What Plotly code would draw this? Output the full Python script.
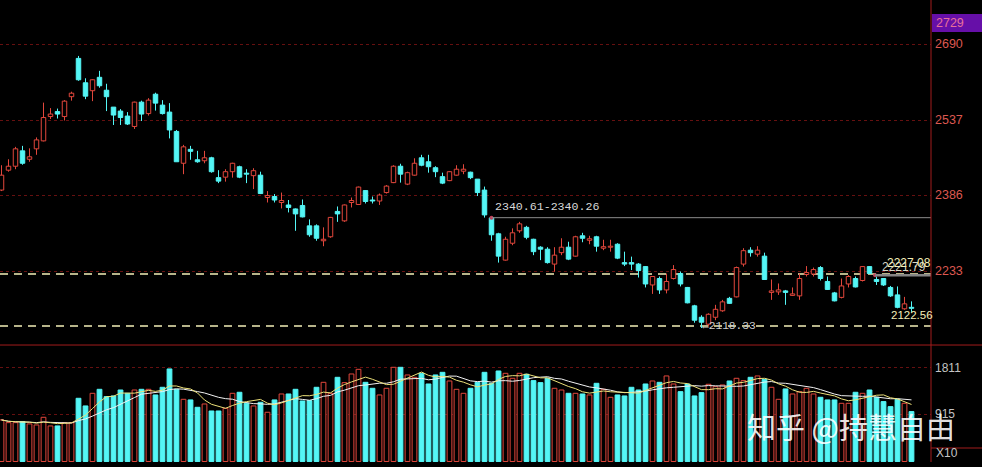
import plotly.graph_objects as go
import pandas as pd

# ---------------- data ----------------
opens = [2396, 2436, 2444, 2475, 2458, 2479, 2495, 2544, 2554, 2544,
         2584, 2661, 2612, 2596, 2623, 2597, 2563, 2555, 2545, 2524,
         2573, 2550, 2589, 2567, 2553, 2514, 2450, 2478, 2457, 2455,
         2461, 2421, 2422, 2433, 2443, 2430, 2425, 2426, 2381, 2383,
         2371, 2366, 2358, 2365, 2324, 2324, 2294, 2302, 2353, 2334,
         2371, 2367, 2395, 2376, 2374, 2391, 2411, 2444, 2408, 2426,
         2461, 2453, 2441, 2423, 2415, 2426, 2434, 2432, 2418, 2396,
         2340, 2308, 2255, 2289, 2314, 2321, 2297, 2281, 2277, 2247,
         2270, 2281, 2263, 2304, 2295, 2302, 2279, 2281, 2287, 2250,
         2250, 2247, 2242, 2205, 2218, 2195, 2218, 2228, 2200, 2163,
         2140, 2126, 2140, 2153, 2178, 2181, 2247, 2275, 2267, 2263,
         2190, 2191, 2193, 2184, 2183, 2226, 2227, 2240, 2212, 2189,
         2180, 2207, 2218, 2214, 2242, 2216, 2218, 2200, 2185, 2157,
         2160]
highs = [2446, 2458, 2483, 2485, 2480, 2502, 2572, 2561, 2560, 2577,
         2594, 2666, 2621, 2619, 2636, 2610, 2563, 2559, 2553, 2574,
         2576, 2581, 2592, 2577, 2571, 2517, 2487, 2485, 2475, 2475,
         2463, 2436, 2438, 2451, 2445, 2438, 2440, 2433, 2394, 2388,
         2391, 2376, 2359, 2377, 2337, 2327, 2321, 2342, 2363, 2367,
         2381, 2403, 2396, 2383, 2389, 2406, 2446, 2449, 2433, 2460,
         2467, 2467, 2444, 2431, 2434, 2446, 2448, 2433, 2418, 2403,
         2340.26, 2310, 2302, 2319, 2332, 2324, 2298, 2283, 2281, 2281,
         2299, 2292, 2304, 2310, 2304, 2304, 2296, 2296, 2289, 2272,
         2262, 2249, 2243, 2223, 2222, 2228, 2245, 2232, 2201, 2165,
         2144, 2148, 2165, 2175, 2181, 2242, 2279, 2281, 2283, 2270,
         2216, 2208, 2195, 2200, 2228, 2243, 2240, 2243, 2222, 2191,
         2218, 2225, 2222, 2243, 2243, 2221.79, 2219, 2203, 2202, 2181,
         2172]
lows = [2394, 2433, 2438, 2447, 2453, 2467, 2494, 2539, 2540, 2536,
        2576, 2616, 2579, 2575, 2602, 2555, 2527, 2527, 2527, 2519,
        2535, 2546, 2556, 2548, 2500, 2453, 2428, 2457, 2451, 2450,
        2431, 2410, 2413, 2421, 2420, 2410, 2398, 2388, 2371, 2371,
        2359, 2351, 2314, 2341, 2302, 2294, 2283, 2300, 2332, 2332,
        2361, 2366, 2369, 2369, 2366, 2389, 2410, 2411, 2406, 2425,
        2444, 2431, 2422, 2408, 2414, 2425, 2428, 2418, 2384, 2340.61,
        2294, 2250, 2254, 2285, 2310, 2297, 2265, 2255, 2248, 2232,
        2265, 2255, 2262, 2291, 2287, 2272, 2275, 2272, 2257, 2243,
        2235, 2220, 2200, 2187, 2187, 2188, 2216, 2202, 2168, 2129,
        2118.33, 2121, 2134, 2151, 2167, 2180, 2242, 2262, 2262, 2215,
        2175, 2185, 2165, 2183, 2175, 2222, 2222, 2214, 2195, 2172,
        2178, 2200, 2200, 2212, 2227.08, 2205, 2203, 2181, 2158, 2155,
        2150]
closes = [2426, 2444, 2479, 2450, 2463, 2497, 2542, 2549, 2549, 2575,
          2591, 2618, 2585, 2618, 2606, 2584, 2547, 2542, 2529, 2573,
          2549, 2577, 2571, 2550, 2517, 2453, 2483, 2474, 2453, 2461,
          2433, 2414, 2433, 2450, 2422, 2428, 2435, 2389, 2385, 2376,
          2375, 2361, 2348, 2342, 2306, 2299, 2297, 2341, 2348, 2366,
          2375, 2402, 2373, 2374, 2386, 2404, 2444, 2428, 2431, 2450,
          2446, 2443, 2433, 2410, 2433, 2438, 2438, 2421, 2391, 2346,
          2306, 2263, 2297, 2310, 2328, 2301, 2272, 2277, 2250, 2265,
          2281, 2257, 2302, 2299, 2298, 2283, 2282, 2283, 2259, 2247,
          2247, 2234, 2207, 2222, 2195, 2212, 2236, 2207, 2169, 2134,
          2130, 2146, 2156, 2171, 2168, 2240, 2274, 2270, 2275, 2216,
          2193, 2195, 2190, 2187, 2218, 2230, 2236, 2218, 2196, 2173,
          2203, 2222, 2201, 2242, 2228, 2212, 2205, 2183, 2160, 2167,
          2158]
volumes = [802, 750, 750, 770, 725, 705, 853, 686, 686, 750,
           750, 1220, 1072, 1316, 1393, 1252, 1265, 1380, 1316, 1380,
           1393, 1393, 1284, 1432, 1786, 1393, 1200, 1188, 1046, 1110,
           975, 975, 1027, 1316, 1336, 1123, 1072, 1143, 950, 1188,
           1303, 1303, 1393, 1168, 1175, 1432, 1528, 1316, 1625, 1522,
           1689, 1779, 1528, 1413, 1284, 1413, 1818, 1818, 1670, 1625,
           1702, 1496, 1670, 1721, 1554, 1393, 1316, 1413, 1528, 1721,
           1509, 1747, 1702, 1606, 1702, 1683, 1561, 1522, 1606, 1413,
           1380, 1316, 1316, 1303, 1284, 1509, 1393, 1239, 1284, 1265,
           1432, 1380, 1496, 1554, 1528, 1651, 1496, 1348, 1496, 1265,
           1329, 1490, 1445, 1477, 1554, 1606, 1561, 1625, 1651, 1586,
           1432, 1200, 1400, 1303, 1348, 1413, 1303, 1239, 1188, 1188,
           1123, 1123, 1336, 1316, 1380, 1239, 1156, 1059, 1200, 1123,
           963]

price_tick_vals = [2690, 2537, 2386, 2233]
price_top_label = "2729"
vol_tick_vals = [1811, 915]
vol_unit_label = "X10"

gap1_hi, gap1_lo = 2340.61, 2340.26
gap1_start = 70
gap2_hi, gap2_lo = 2227.08, 2221.79
gap2_start = 124
low_mark = 2118.33
low_idx = 100
level_a = 2227.08
level_b = 2122.56
watermark = "知乎 @持慧自由"

# ---------------- styling ----------------
RED = '#e2473c'
CYAN = '#54f6f6'
GRID = '#661010'
AXIS = '#a21c1c'
LBL_RED = '#dd5850'
LBL_GRAY = '#c4c4c4'
YEL = '#f3efb8'

n = len(opens)
idx = list(range(n))
X0, X1 = -0.214, 132.786          # x range (plot area 931 px)
PR0, PR1 = 2084.1, 2778.6        # price range
VR0, VR1 = -10, 2248             # volume range
SPLIT = 0.2532                   # panel split (paper)

up = [c >= o for o, c in zip(opens, closes)]

fig = go.Figure()

# wicks (split so they don't cross hollow bodies)
for flag, col in ((True, RED), (False, CYAN)):
    wx, wy = [], []
    for i in idx:
        if up[i] != flag:
            continue
        top = max(opens[i], closes[i])
        bot = min(opens[i], closes[i])
        wx += [i, i, None, i, i, None]
        wy += [highs[i], top, None, bot, lows[i], None]
    fig.add_trace(go.Scatter(x=wx, y=wy, mode='lines', line=dict(color=col, width=1),
                             hoverinfo='skip', showlegend=False, xaxis='x', yaxis='y'))

# bodies
bases = [min(o, c) for o, c in zip(opens, closes)]
heights = [max(abs(c - o), 1.0) for o, c in zip(opens, closes)]
fig.add_trace(go.Bar(
    x=idx, y=heights, base=bases, width=0.64,
    marker=dict(color=['#000000' if u else CYAN for u in up],
                line=dict(color=[RED if u else CYAN for u in up], width=1)),
    showlegend=False, xaxis='x', yaxis='y'))

# volume bars
fig.add_trace(go.Bar(
    x=idx, y=volumes, width=0.68,
    marker=dict(color=['#000000' if u else CYAN for u in up],
                line=dict(color=[RED if u else CYAN for u in up], width=1)),
    showlegend=False, xaxis='x2', yaxis='y2'))

vs = pd.Series(volumes, dtype=float)
ma5 = vs.rolling(5, min_periods=1).mean()
ma10 = vs.rolling(10, min_periods=1).mean()
fig.add_trace(go.Scatter(x=idx, y=ma10, mode='lines', line=dict(color='#f2f2f2', width=1),
                         showlegend=False, xaxis='x2', yaxis='y2', hoverinfo='skip'))
fig.add_trace(go.Scatter(x=idx, y=ma5, mode='lines', line=dict(color='#eee27a', width=1),
                         showlegend=False, xaxis='x2', yaxis='y2', hoverinfo='skip'))

# small red dots at start of gap lines
fig.add_trace(go.Scatter(x=[gap1_start, gap2_start + 0.8],
                         y=[(gap1_hi + gap1_lo) / 2, (gap2_hi + gap2_lo) / 2],
                         mode='markers', marker=dict(color='#c0405a', size=4),
                         showlegend=False, hoverinfo='skip', xaxis='x', yaxis='y'))

shapes = []
# dashed level lines
for lv in (level_a, level_b):
    shapes.append(dict(type='line', xref='paper', yref='y', x0=0, x1=1, y0=lv, y1=lv,
                       line=dict(color=YEL, width=1.5, dash='8px,6px'), layer='below'))
# gap lines / band
shapes.append(dict(type='line', xref='x', yref='y', x0=gap1_start, x1=X1,
                   y0=(gap1_hi + gap1_lo) / 2, y1=(gap1_hi + gap1_lo) / 2,
                   line=dict(color='#8c8c8c', width=1)))
shapes.append(dict(type='rect', xref='x', yref='y', x0=gap2_start + 0.8, x1=X1,
                   y0=gap2_lo, y1=gap2_hi, fillcolor='#858585', line=dict(width=0)))
# axes frame lines
shapes.append(dict(type='line', xref='paper', yref='paper', x0=1, x1=1, y0=0, y1=1.02,
                   line=dict(color=AXIS, width=1)))
shapes.append(dict(type='line', xref='paper', yref='paper', x0=0, x1=1.06, y0=SPLIT, y1=SPLIT,
                   line=dict(color=AXIS, width=1)))
shapes.append(dict(type='line', xref='paper', yref='paper', x0=1, x1=1.06, y0=0.0303, y1=0.0303,
                   line=dict(color=AXIS, width=1)))
# highlighted top label box
shapes.append(dict(type='rect', xref='paper', yref='paper', x0=1.001, x1=1.06, y0=0.9307, y1=0.9697,
                   fillcolor='#660fa8', line=dict(width=0)))

ann = []
mono = 'Liberation Mono'
ann.append(dict(x=gap1_start + 0.2, y=2362, xref='x', yref='y', xanchor='left', yanchor='middle',
                text=f"{gap1_hi:.2f}-{gap1_lo:.2f}", showarrow=False,
                font=dict(family=mono, size=11.6, color='#d8d8d8')))
ann.append(dict(x=low_idx - 0.2, y=2121.5, xref='x', yref='y', xanchor='left', yanchor='middle',
                text=f"←{low_mark:.2f}", showarrow=False,
                font=dict(family=mono, size=11.2, color='#d0d0d0')))
ann.append(dict(x=126.75, y=2145, xref='x', yref='y', xanchor='left', yanchor='middle',
                text=f"{level_b:.2f}", showarrow=False,
                font=dict(family='Liberation Sans', size=11.5, color=YEL)))
ann.append(dict(x=125.5, y=2242, xref='x', yref='y', xanchor='left', yanchor='middle',
                text=f"{gap2_lo:.2f}", showarrow=False,
                font=dict(family='Liberation Sans', size=12, color='#d8d8c8')))
ann.append(dict(x=126.2, y=2250, xref='x', yref='y', xanchor='left', yanchor='middle',
                text=f"{gap2_hi:.2f}", showarrow=False,
                font=dict(family='Liberation Sans', size=12, color=YEL)))
ann.append(dict(x=1.003, y=0.95, xref='paper', yref='paper', xanchor='left', yanchor='middle',
                text=price_top_label, showarrow=False,
                font=dict(family='Liberation Sans', size=12.5, color='#e8709a')))
ann.append(dict(x=1.003, y=0.0195, xref='paper', yref='paper', xanchor='left', yanchor='middle',
                text=vol_unit_label, showarrow=False,
                font=dict(family='Liberation Sans', size=12, color=LBL_GRAY)))
ann.append(dict(x=0.914, y=0.078, xref='paper', yref='paper', xanchor='center', yanchor='middle',
                text=watermark, showarrow=False,
                font=dict(family='Noto Sans CJK SC', size=29, color='rgba(255,255,255,0.9)')))

fig.update_layout(
    width=982, height=467,
    margin=dict(l=0, r=51, t=0, b=5),
    paper_bgcolor='#000000', plot_bgcolor='#000000',
    barmode='overlay', showlegend=False, hovermode=False,
    xaxis=dict(range=[X0, X1], visible=False, domain=[0, 1], anchor='y'),
    xaxis2=dict(range=[X0, X1], visible=False, domain=[0, 1], anchor='y2', matches='x'),
    yaxis=dict(domain=[SPLIT, 1], range=[PR0, PR1], side='right', anchor='x',
               tickvals=price_tick_vals, ticks='', ticklen=0, ticklabelstandoff=3,
               tickfont=dict(family='Liberation Sans', size=12.5, color=LBL_RED),
               showgrid=True, gridcolor=GRID, griddash='dot', gridwidth=1,
               zeroline=False, showline=False),
    yaxis2=dict(domain=[0, SPLIT], range=[VR0, VR1], side='right', anchor='x2',
                tickvals=vol_tick_vals, ticks='', ticklen=0, ticklabelstandoff=3,
                tickfont=dict(family='Liberation Sans', size=12, color=LBL_GRAY),
                showgrid=True, gridcolor=GRID, griddash='dot', gridwidth=1,
                zeroline=False, showline=False),
    shapes=shapes, annotations=ann,
)

fig.write_html("out.html", config={'displayModeBar': False},
               post_script="document.body.style.margin='0';document.body.style.background='#000';")
